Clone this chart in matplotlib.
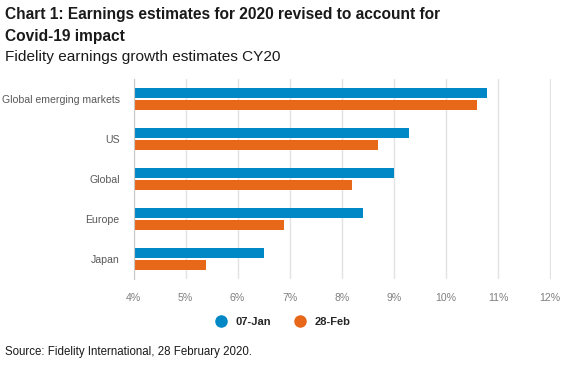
import numpy as np
import matplotlib.pyplot as plt
from matplotlib.lines import Line2D

plt.rcParams['font.family'] = ['Liberation Sans', 'DejaVu Sans']

categories = ['Global emerging markets', 'US', 'Global', 'Europe', 'Japan']
jan_values = [10.8, 9.3, 9.0, 8.4, 6.5]
feb_values = [10.6, 8.7, 8.2, 6.9, 5.4]
series_names = ['07-Jan', '28-Feb']
x_ticks = [4, 5, 6, 7, 8, 9, 10, 11, 12]
x_tick_labels = ['4%', '5%', '6%', '7%', '8%', '9%', '10%', '11%', '12%']

blue = '#0087c6'
orange = '#e8681a'

fig = plt.figure(figsize=(5.72, 3.72), dpi=100)
# axes in pixel coords: left 133.5, right 550.5 (12%), top 79, bottom 279
W, H = 572, 372
ax = fig.add_axes([133.5 / W, 1 - 279 / H, (551 - 133.5) / W, 200 / H])

y = np.arange(len(categories))
bh = 0.25
ax.barh(y - 0.155, jan_values, height=bh, left=0, color=blue, zorder=3)
ax.barh(y + 0.155, feb_values, height=bh, left=0, color=orange, zorder=3)

ax.set_xlim(4, 12.02)
ax.set_ylim(len(categories) - 0.5, -0.5)
ax.set_yticks(y)
ax.set_yticklabels(categories, fontsize=7.6, color='#595959')
ax.set_xticks(x_ticks)
ax.set_xticklabels(x_tick_labels, fontsize=7.6, color='#7f7f7f')
ax.tick_params(axis='both', length=0)
ax.tick_params(axis='x', pad=10)
ax.tick_params(axis='y', pad=10)
ax.grid(axis='x', color='#e3e3e3', linewidth=1, zorder=0)
for s in ['top', 'right', 'bottom']:
    ax.spines[s].set_visible(False)
ax.spines['left'].set_color('#c8c8c8')
ax.spines['left'].set_zorder(4)

fig.text(5 / W, 1 - 15 / H, 'Chart 1: Earnings estimates for 2020 revised to account for',
         fontsize=11.2, fontweight='bold', va='center', color='#1a1a1a')
fig.text(5 / W, 1 - 36 / H, 'Covid-19 impact',
         fontsize=11.2, fontweight='bold', va='center', color='#1a1a1a')
fig.text(5 / W, 1 - 57 / H, 'Fidelity earnings growth estimates CY20',
         fontsize=11.05, va='center', color='#1a1a1a')
fig.text(5 / W, 1 - 352 / H, 'Source: Fidelity International, 28 February 2020.',
         fontsize=8.3, va='center', color='#1a1a1a')

handles = [Line2D([], [], marker='o', linestyle='none', markersize=8, color=c)
           for c in [blue, orange]]
leg = fig.legend(handles, series_names, loc='center', bbox_to_anchor=(280 / W, 1 - 322 / H),
                 ncol=2, frameon=False, handletextpad=0.3, columnspacing=1.6,
                 prop={'size': 8, 'weight': 'bold'})
for t in leg.get_texts():
    t.set_color('#262626')

fig.savefig('out.png', dpi=100)
